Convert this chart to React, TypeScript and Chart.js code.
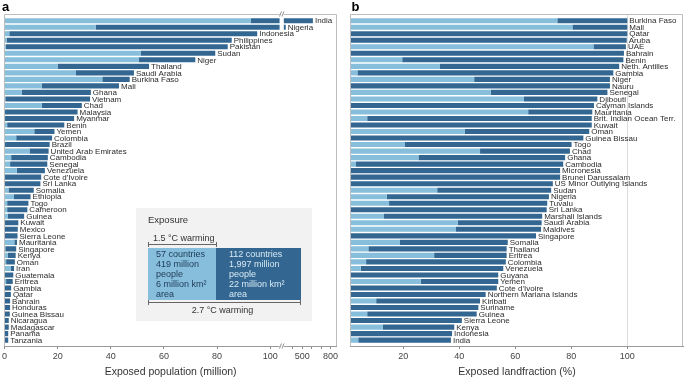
import React, { useEffect, useRef } from 'react';
import { Chart, registerables } from 'chart.js';
Chart.register(...registerables);

// ---------- data ----------
const countriesA = ['India', 'Nigeria', 'Indonesia', 'Philippines', 'Pakistan', 'Sudan', 'Niger', 'Thailand', 'Saudi Arabia', 'Burkina Faso', 'Mali', 'Ghana', 'Vietnam', 'Chad', 'Malaysia', 'Myanmar', 'Benin', 'Yemen', 'Colombia', 'Brazil', 'United Arab Emirates', 'Cambodia', 'Senegal', 'Venezuela', "Cote d'Ivoire", 'Sri Lanka', 'Somalia', 'Ethiopia', 'Togo', 'Cameroon', 'Guinea', 'Kuwait', 'Mexico', 'Sierra Leone', 'Mauritania', 'Singapore', 'Kenya', 'Oman', 'Iran', 'Guatemala', 'Eritrea', 'Gambia', 'Qatar', 'Bahrain', 'Honduras', 'Guinea Bissau', 'Nicaragua', 'Madagascar', 'Panama', 'Tanzania'];
// exposed population (million) at 1.5 °C and at 2.7 °C
const popA15 = [92.6, 34.3, 1.8, 0.8, 0.5, 51.2, 50.6, 20, 26.9, 36.8, 14, 6.5, 0.3, 14, 0.2, 0.2, 1, 11.2, 4.4, 0.2, 9.4, 2.5, 2.1, 4.6, 0.2, 0.2, 1.5, 3.4, 1, 1, 1.3, 0.2, 0.1, 0.1, 3.7, 0.3, 1.3, 0.6, 2.4, 0.1, 0.6, 0.1, 0.1, 0.1, 0.1, 0.1, 0.1, 0.1, 0.1, 0.1];
const popA27 = [614, 326, 95.1, 85.5, 84, 79.3, 71.8, 54.4, 48.7, 47.1, 43.1, 32.5, 32.2, 29.1, 27.5, 26.2, 22.5, 18.8, 17.9, 17, 16.6, 16.3, 16.1, 15.2, 13.8, 13.5, 11, 9.8, 9, 8.6, 7.4, 5.2, 5, 4.9, 4.7, 4.4, 4.2, 3.9, 3.6, 3.3, 3.1, 2.5, 2.4, 2.1, 2.1, 2, 1.6, 1.6, 1.4, 1.4];

const countriesB = ['Burkina Faso', 'Mali', 'Qatar', 'Aruba', 'UAE', 'Bahrain', 'Benin', 'Neth. Antilles', 'Gambia', 'Niger', 'Nauru', 'Senegal', 'Djibouti', 'Cayman Islands', 'Mauritania', 'Brit. Indian Ocean Terr.', 'Kuwait', 'Oman', 'Guinea Bissau', 'Togo', 'Chad', 'Ghana', 'Cambodia', 'Micronesia', 'Brunei Darussalam', 'US Minor Outlying Islands', 'Sudan', 'Nigeria', 'Tuvalu', 'Sri Lanka', 'Marshall Islands', 'Saudi Arabia', 'Maldives', 'Singapore', 'Somalia', 'Thailand', 'Eritrea', 'Colombia', 'Venezuela', 'Guyana', 'Yemen', "Cote d'Ivoire", 'Northern Mariana Islands', 'Kiribati', 'Suriname', 'Guinea', 'Sierra Leone', 'Kenya', 'Indonesia', 'India'];
// exposed land fraction (%) at 1.5 °C and at 2.7 °C
const landB15 = [75, 80.4, 0, 0, 87.9, 0, 19.6, 33.1, 3.6, 45.3, 0, 51.2, 63.1, 0, 64.6, 7.1, 0, 42, 0, 20.6, 47.4, 25.4, 3.1, 0, 0, 0, 32.1, 14.1, 14.9, 0, 13.1, 39.4, 38.8, 0, 18.8, 7.5, 31, 6.7, 4.8, 0, 26.2, 0, 0, 10.3, 0, 7.1, 0, 12.6, 0, 3.9];
const landB27 = [100, 100, 100, 99.8, 99.5, 98.8, 98.6, 97.1, 95, 93.8, 93.8, 92.9, 89.3, 88.1, 87.5, 87.3, 87.3, 86.4, 84.3, 80.1, 79.5, 77.8, 77.1, 76, 76, 73.4, 72.8, 72, 71.4, 71.2, 69.6, 69.4, 69.2, 67.4, 57.3, 56.9, 56.9, 56.6, 55.7, 53.9, 53.9, 53.4, 49.4, 47.4, 46.8, 46.2, 40.9, 38.2, 37.4, 37];

const ticksA = [0, 20, 40, 60, 80, 100, 400, 500, 600, 700, 800];
const tickLabelsA = ['0', '20', '40', '60', '80', '100', '', '500', '', '', '800'];
const ticksB = [20, 40, 60, 80, 100];

const legendTitle = 'Exposure';
const legend15 = '1.5 °C warming';
const legend27 = '2.7 °C warming';
const legendLight = ['57 countries', '419 million', 'people', '6 million km²', 'area'];
const legendDark = ['112 countries', '1,997 million', 'people', '22 million km²', 'area'];

// ---------- style ----------
const LIGHT = '#87bedb';
const DARK = '#336792';
const FRAME = '#bdbdbd';
const FAMILY = "'Liberation Sans', Arial, sans-serif";

// broken axis transform for panel a (values above the break are compressed)
const BREAK_LOW = 104;
const BREAK_HIGH = 300;
function brk(v: number) {
  return v <= BREAK_LOW ? v : 104.9 + (v - BREAK_HIGH) * 0.0355;
}

function drawFrame(chart: any, sides: string[]) {
  const { left, right, top, bottom } = chart.chartArea;
  const ctx = chart.ctx;
  ctx.save();
  ctx.strokeStyle = FRAME;
  ctx.lineWidth = 1;
  const l = Math.round(left) - 0.5, r = Math.round(right) - 0.5, t = Math.round(top) + 0.5, b = Math.round(bottom);
  ctx.beginPath();
  if (sides.includes('top')) { ctx.moveTo(l, t); ctx.lineTo(r, t); }
  if (sides.includes('left')) { ctx.moveTo(l, t); ctx.lineTo(l, b); }
  if (sides.includes('right')) { ctx.moveTo(r, t); ctx.lineTo(r, b); }
  ctx.stroke();
  ctx.restore();
}

function drawLabels(chart: any, names: string[]) {
  const meta = chart.getDatasetMeta(1);
  const ctx = chart.ctx;
  ctx.save();
  ctx.font = `8px ${FAMILY}`;
  ctx.fillStyle = '#2b2b2b';
  ctx.textBaseline = 'middle';
  ctx.textAlign = 'left';
  meta.data.forEach((el: any, i: number) => {
    ctx.fillText(names[i], el.x + 2, el.y + 0.5);
  });
  ctx.restore();
}

function drawPanelLetter(chart: any, letter: string, x: number) {
  const ctx = chart.ctx;
  ctx.save();
  ctx.font = `bold 13px ${FAMILY}`;
  ctx.fillStyle = '#000';
  ctx.textBaseline = 'alphabetic';
  ctx.textAlign = 'left';
  ctx.fillText(letter, x, 10.5);
  ctx.restore();
}

function slash(ctx: any, x: number, y: number) {
  ctx.beginPath();
  ctx.moveTo(x - 2.2, y + 2.5); ctx.lineTo(x - 0.2, y - 2.5);
  ctx.moveTo(x + 0.3, y + 2.5); ctx.lineTo(x + 2.3, y - 2.5);
  ctx.stroke();
}

const pluginA = {
  id: 'panelA',
  afterDatasetsDraw(chart: any) {
    const ctx = chart.ctx;
    const xs = chart.scales.x;
    const { top, bottom } = chart.chartArea;
    drawFrame(chart, ['top', 'left', 'right']);
    // break gap
    const g0 = xs.getPixelForValue(103.5), g1 = xs.getPixelForValue(105.1);
    ctx.save();
    ctx.fillStyle = '#fff';
    ctx.fillRect(g0, top - 1, g1 - g0, bottom - top + 2);
    ctx.strokeStyle = '#777';
    ctx.lineWidth = 0.8;
    const gm = (g0 + g1) / 2;
    slash(ctx, gm, top);
    slash(ctx, gm, bottom);
    ctx.restore();
    drawLabels(chart, countriesA);
    drawPanelLetter(chart, 'a', 2);

    // legend box
    ctx.save();
    ctx.fillStyle = '#f2f2f2';
    ctx.fillRect(136, 208, 176, 113);
    ctx.fillStyle = '#333';
    ctx.textBaseline = 'middle';
    ctx.textAlign = 'left';
    ctx.font = `9.5px ${FAMILY}`;
    ctx.fillText(legendTitle, 148, 220);
    ctx.font = `9px ${FAMILY}`;
    ctx.fillText(legend15, 153, 238.5);
    ctx.strokeStyle = '#666';
    ctx.lineWidth = 1;
    ctx.beginPath();
    ctx.moveTo(148.5, 244.5); ctx.lineTo(216.5, 244.5);
    ctx.moveTo(148.5, 242); ctx.lineTo(148.5, 247);
    ctx.moveTo(216.5, 242); ctx.lineTo(216.5, 247);
    ctx.moveTo(148.5, 302.5); ctx.lineTo(300.5, 302.5);
    ctx.moveTo(148.5, 300); ctx.lineTo(148.5, 305);
    ctx.moveTo(300.5, 300); ctx.lineTo(300.5, 305);
    ctx.stroke();
    ctx.fillStyle = LIGHT;
    ctx.fillRect(148, 248, 68, 52);
    ctx.fillStyle = DARK;
    ctx.fillRect(216, 248, 85, 52);
    ctx.font = `9px ${FAMILY}`;
    legendLight.forEach((t, i) => {
      ctx.fillStyle = '#1c3956';
      ctx.fillText(t, 156, 255 + i * 9.9);
    });
    legendDark.forEach((t, i) => {
      ctx.fillStyle = '#d7e9f4';
      ctx.fillText(t, 229, 255 + i * 9.9);
    });
    ctx.fillStyle = '#333';
    ctx.textAlign = 'center';
    ctx.fillText(legend27, 222.5, 311);
    ctx.restore();
  },
};

const pluginB = {
  id: 'panelB',
  afterDatasetsDraw(chart: any) {
    drawFrame(chart, ['top', 'left', 'right']);
    drawLabels(chart, countriesB);
    drawPanelLetter(chart, 'b', 11.5);
  },
};

function xAxisCommon(title: string) {
  return {
    type: 'linear' as const,
    afterFit: (s: any) => { s.height = 32; },
    ticks: {
      autoSkip: false,
      maxRotation: 0,
      padding: 2,
      color: '#444',
      font: { family: FAMILY, size: 9 },
    },
    border: { display: true, color: '#9a9a9a', width: 1 },
    title: {
      display: true,
      text: title,
      color: '#333',
      font: { family: FAMILY, size: 10.5 },
      padding: { top: 0, bottom: 0 },
    },
  };
}

const Y_MIN = -1.03;
const Y_MAX = 49.9;
const yAxis = {
  type: 'linear' as const,
  min: Y_MIN,
  max: Y_MAX,
  reverse: true,
  display: false,
  offset: false,
  bounds: 'data' as const,
  grace: 0,
  afterBuildTicks: (s: any) => { s.min = Y_MIN; s.max = Y_MAX; },
};

function makeConfigA(): any {
  const base = xAxisCommon('Exposed population (million)');
  return {
    type: 'bar',
    data: {
      datasets: [
        { data: popA15.map((v, i) => ({ x: [0, brk(v)], y: i })), backgroundColor: LIGHT, grouped: false, barPercentage: 0.84, categoryPercentage: 1 },
        { data: popA27.map((v, i) => ({ x: [brk(popA15[i]), brk(v)], y: i })), backgroundColor: DARK, grouped: false, barPercentage: 0.84, categoryPercentage: 1 },
      ],
    },
    options: {
      indexAxis: 'y',
      animation: false,
      responsive: false,
      maintainAspectRatio: false,
      layout: { padding: { left: 3.3, right: 3, top: 14, bottom: 0 } },
      plugins: { legend: { display: false }, tooltip: { enabled: false } },
      scales: {
        y: yAxis,
        x: {
          ...base,
          min: 0,
          max: 125,
          afterBuildTicks: (s: any) => { s.ticks = ticksA.map((v) => ({ value: brk(v) })); },
          ticks: { ...base.ticks, callback: (_v: any, idx: number) => tickLabelsA[idx] },
          grid: { display: true, drawOnChartArea: false, drawTicks: true, tickLength: 3, tickColor: '#888' },
        },
      },
    },
    plugins: [pluginA],
  };
}

function makeConfigB(): any {
  const base = xAxisCommon('Exposed landfraction (%)');
  return {
    type: 'bar',
    data: {
      datasets: [
        { data: landB15.map((v, i) => ({ x: [0, v], y: i })), backgroundColor: LIGHT, grouped: false, barPercentage: 0.84, categoryPercentage: 1 },
        { data: landB27.map((v, i) => ({ x: [landB15[i], v], y: i })), backgroundColor: DARK, grouped: false, barPercentage: 0.84, categoryPercentage: 1 },
      ],
    },
    options: {
      indexAxis: 'y',
      animation: false,
      responsive: false,
      maintainAspectRatio: false,
      layout: { padding: { left: 10.7, right: 1.7, top: 14, bottom: 0 } },
      plugins: { legend: { display: false }, tooltip: { enabled: false } },
      scales: {
        y: yAxis,
        x: {
          ...base,
          min: 1.2,
          max: 120,
          afterBuildTicks: (s: any) => { s.ticks = ticksB.map((v) => ({ value: v })); },
          ticks: { ...base.ticks, callback: (v: any) => String(v) },
          grid: {
            display: true,
            drawOnChartArea: true,
            drawTicks: true,
            tickLength: 3,
            tickColor: '#888',
            color: (c: any) => (c.tick && c.tick.value === 100 ? '#dcdcdc' : 'rgba(0,0,0,0)'),
          },
        },
      },
    },
    plugins: [pluginB],
  };
}

export default function App() {
  const refA = useRef<HTMLCanvasElement>(null);
  const refB = useRef<HTMLCanvasElement>(null);
  useEffect(() => {
    document.body.style.margin = '0';
    const a = new Chart(refA.current as HTMLCanvasElement, makeConfigA());
    const b = new Chart(refB.current as HTMLCanvasElement, makeConfigB());
    return () => { a.destroy(); b.destroy(); };
  }, []);
  return (
    <div style={{ position: 'relative', width: 685, height: 378, background: '#fff' }}>
      <canvas ref={refA} width={340} height={378} style={{ position: 'absolute', left: 0, top: 0, width: 340, height: 378 }} />
      <canvas ref={refB} width={345} height={378} style={{ position: 'absolute', left: 340, top: 0, width: 345, height: 378 }} />
    </div>
  );
}
